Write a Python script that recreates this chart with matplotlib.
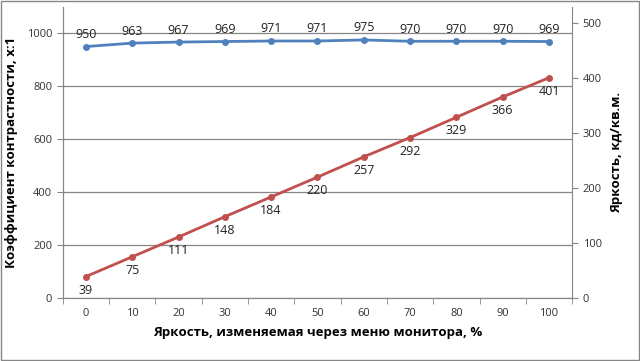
import numpy as np
import matplotlib
matplotlib.use("Agg")
import matplotlib.pyplot as plt

plt.rcParams['font.family'] = ['Open Sans', 'DejaVu Sans']

levels = ["0", "10", "20", "30", "40", "50", "60", "70", "80", "90", "100"]
contrast = [950, 963, 967, 969, 971, 971, 975, 970, 970, 970, 969]
brightness = [39, 75, 111, 148, 184, 220, 257, 292, 329, 366, 401]

blue = "#4F81BD"
red = "#C0504D"
grey = "#868686"

fig = plt.figure(figsize=(6.4, 3.61), dpi=100)
ax1 = fig.add_axes([0.098, 0.1745, 0.796, 0.8065])
ax2 = ax1.twinx()

x = np.arange(len(levels))

ax1.plot(x, contrast, color=blue, lw=2, marker="o", ms=4, zorder=3)
ax2.plot(x, brightness, color=red, lw=2, marker="o", ms=4, zorder=3)

for xi, v in zip(x, contrast):
    ax1.annotate(str(v), (xi, v), xytext=(0, 4), textcoords="offset points",
                 ha="center", va="bottom", fontsize=9, color="#222222")
for xi, v in zip(x, brightness):
    ax2.annotate(str(v), (xi, v), xytext=(0, -5), textcoords="offset points",
                 ha="center", va="top", fontsize=9, color="#222222")

ax1.set_xlim(-0.5, len(levels) - 0.5)
ax1.set_ylim(0, 1100)
ax1.set_yticks(range(0, 1001, 200))
ax2.set_ylim(0, 530)
ax2.set_yticks(range(0, 501, 100))

ax1.set_xticks(x)
ax1.set_xticklabels(levels)
ax1.set_xticks(np.arange(-0.5, len(levels)), minor=True)
ax1.tick_params(axis="x", which="major", length=0, pad=7, labelsize=8, colors="#333333")
ax1.tick_params(axis="x", which="minor", length=4, color=grey, direction="out")
ax1.tick_params(axis="y", length=4, color=grey, labelsize=8, labelcolor="#333333")
ax2.tick_params(axis="y", length=4, color=grey, labelsize=8, labelcolor="#333333")

ax1.yaxis.grid(True, color=grey, lw=0.9)
ax1.set_axisbelow(True)

for a in (ax1, ax2):
    a.spines["top"].set_visible(False)
    for s in ("left", "right", "bottom"):
        a.spines[s].set_color(grey)
ax1.spines["right"].set_visible(False)

ax1.set_xlabel("Яркость, изменяемая через меню монитора, %", fontsize=9.5,
               fontweight="bold", labelpad=5)
ax1.set_ylabel("Коэффициент контрастности, x:1", fontsize=9.5, fontweight="bold",
               labelpad=6)
ax2.set_ylabel("Яркость, кд/кв.м.", fontsize=9.5, fontweight="bold", labelpad=6)

fig.patches.append(plt.Rectangle((0.002, 0.003), 0.996, 0.994, transform=fig.transFigure,
                                 fill=False, edgecolor=grey, lw=1))

fig.savefig("out.png", dpi=100)
